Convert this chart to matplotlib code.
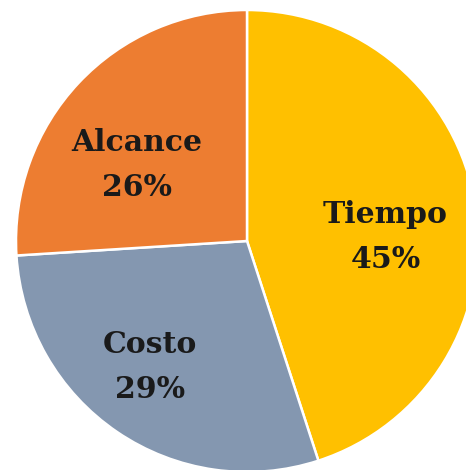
import numpy as np
import matplotlib
matplotlib.use("Agg")
import matplotlib.pyplot as plt

labels = ["Tiempo", "Costo", "Alcance"]
shares = [45, 29, 26]
colors = ["#FFC000", "#8497B0", "#ED7D31"]
# label placement: distance from centre and angle shift from slice middle
label_dist = [0.60, 0.69, 0.58]
label_shift = [-7.3, -3.4, 8.6]

fig = plt.figure(figsize=(4.66, 4.70), dpi=100)
# pie center at (247, 241) px, radius 231 px
ax = fig.add_axes([(247 - 231) / 466, (470 - 241 - 231) / 470, 462 / 466, 462 / 470])

wedges, _ = ax.pie(shares, colors=colors, startangle=90, counterclock=False,
                   radius=1, wedgeprops=dict(edgecolor="white", linewidth=1.8))

for w, lab, val, d, s in zip(wedges, labels, shares, label_dist, label_shift):
    mid = np.deg2rad((w.theta1 + w.theta2) / 2 + s)
    x, y = d * np.cos(mid), d * np.sin(mid)
    ax.text(x, y, f"{lab}\n{val}%", ha="center", va="center",
            fontsize=21.5, fontweight="bold", family="DejaVu Serif",
            color="#1a1a1a", linespacing=1.7)

ax.set_aspect("auto")
ax.set_xlim(-1, 1)
ax.set_ylim(-1, 1)
ax.axis("off")

fig.savefig("out.png", dpi=100)
